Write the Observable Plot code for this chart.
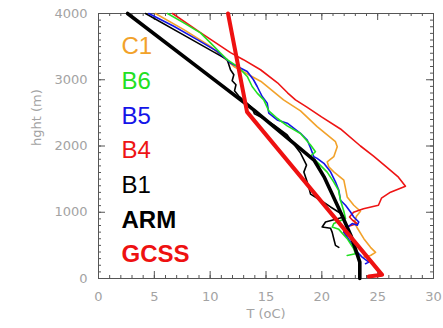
<!DOCTYPE html>
<html><head><meta charset="utf-8">
<script src="https://cdn.jsdelivr.net/npm/d3@7"></script>
<script src="https://cdn.jsdelivr.net/npm/@observablehq/plot@0.6"></script>
<style>
body{margin:0;background:#fff;}
#wrap{position:relative;width:443px;height:328px;overflow:hidden;}
#legend{position:absolute;left:121.5px;top:29.4px;font-family:"Liberation Sans",Arial,sans-serif;font-size:24px;line-height:34.67px;white-space:nowrap;}
</style></head>
<body>
<div id="wrap"><div id="chart"></div><div id="legend"></div></div>
<script>
// Series (temperature in degC, height in m)
const gcssT = [24.2, 25.4, 13.3, 11.6];
const gcssH = [30, 55, 2515, 4000];

const armT = [2.6, 13.9, 17.5, 19.3, 20.2, 20.9, 21.8, 22.6, 23.2, 23.4, 23.4];
const armH = [4000, 2545, 2040, 1788, 1535, 1283, 955, 650, 350, 247, 0];

const c1T = [5.1, 7.64, 10.03, 12.12, 14.55, 16.57, 18.09, 19.58, 21.22, 21.38, 21.07, 20.48, 20.62, 21.07, 21.97, 22.12, 22.27, 22.86, 23.46, 23.1, 22.92, 23.19, 23.76, 24.36, 24.81, 24.36, 23.76];
const c1H = [4000, 3757, 3504, 3201, 2974, 2697, 2530, 2292, 2065, 1989, 1838, 1762, 1686, 1610, 1485, 1359, 1232, 1106, 1015, 939, 848, 758, 601, 470, 394, 348, 323];

const b6T = [6.18, 7.64, 9.13, 10.03, 10.92, 11.52, 12.56, 13.32, 13.76, 14.21, 14.8, 15.25, 16.0, 16.9, 18.09, 18.99, 19.43, 18.99, 19.58, 20.48, 21.07, 21.49, 21.67, 21.97, 22.12, 21.07, 20.93, 21.52, 22.27, 22.86, 23.01, 22.27];
const b6H = [4000, 3859, 3707, 3556, 3404, 3303, 3186, 3050, 2898, 2798, 2697, 2530, 2419, 2303, 2189, 2015, 1913, 1848, 1757, 1606, 1454, 1333, 1182, 1015, 904, 829, 777, 742, 601, 450, 374, 348];

const b5T = [4.5, 6.74, 8.84, 10.63, 11.82, 13.32, 13.88, 14.21, 14.66, 15.11, 15.25, 16.0, 16.9, 18.09, 18.69, 18.99, 19.28, 19.58, 20.18, 20.78, 21.22, 21.52, 21.67, 22.12, 22.57, 22.86, 23.31, 23.17, 22.72, 22.12, 21.97, 22.27, 22.75, 23.17, 23.61, 24.21, 23.91];
const b5H = [4000, 3807, 3606, 3428, 3253, 3125, 3000, 2898, 2747, 2647, 2495, 2394, 2344, 2192, 2091, 1970, 1838, 1813, 1738, 1610, 1459, 1333, 1182, 1106, 1004, 929, 853, 803, 829, 753, 701, 626, 500, 398, 323, 247, 223];

const b4T = [6.63, 9.13, 11.82, 12.98, 14.51, 16.03, 16.93, 17.64, 18.63, 19.97, 21.67, 23.46, 24.63, 25.7, 26.86, 27.49, 26.15, 25.34, 25.07, 23.73, 22.84, 22.48, 22.75, 23.17, 22.41, 21.97, 22.21];
const b4H = [4000, 3712, 3409, 3303, 3151, 2954, 2803, 2697, 2591, 2439, 2257, 2000, 1848, 1697, 1530, 1394, 1303, 1212, 1106, 1053, 1000, 929, 879, 829, 788, 701, 636];

const b1T = [4.21, 7.88, 11.53, 11.82, 12.12, 11.97, 12.31, 12.18, 12.54, 13.16, 13.76, 13.97, 14.8, 15.7, 16.9, 17.55, 18.09, 18.63, 18.39, 18.63, 18.83, 18.99, 19.88, 20.78, 21.67, 21.97, 20.33, 20.03, 20.78, 20.93, 21.07, 21.22, 21.52];
const b1H = [4000, 3651, 3303, 3151, 3075, 2985, 2924, 2833, 2757, 2666, 2576, 2485, 2416, 2318, 2166, 2015, 1894, 1712, 1606, 1485, 1379, 1273, 1182, 1080, 985, 929, 853, 777, 758, 697, 601, 500, 470];

// Legend labels and colours
const legendLabels = ["C1", "B6", "B5", "B4", "B1", "ARM", "GCSS"];
const legendColors = ["#f2a22a", "#22e022", "#1414e8", "#ee1414", "#000000", "#000000", "#ee1111"];
const legendBold = [false, false, false, false, false, true, true];

// Axis ticks
const xMajor = [0, 5, 10, 15, 20, 25, 30];
const yMajor = [0, 1000, 2000, 3000, 4000];
const xMinor = d3.range(0, 31, 1);
const yMinor = d3.range(0, 4001, 100);

const toRows = (name, T, H) => T.map((t, i) => ({name, T: t, h: H[i]}));

const thin = [
  {name: "C1", rows: toRows("C1", c1T, c1H), color: legendColors[0]},
  {name: "B4", rows: toRows("B4", b4T, b4H), color: legendColors[3]},
  {name: "B1", rows: toRows("B1", b1T, b1H), color: legendColors[4]},
  {name: "B5", rows: toRows("B5", b5T, b5H), color: legendColors[2]},
  {name: "B6", rows: toRows("B6", b6T, b6H), color: legendColors[1]}
];

const W = 443, H = 328, mL = 98, mR = 10, mT = 13, mB = 50;
const fw = W - mL - mR, fh = H - mT - mB;
const axisColor = "#555";

const chart = Plot.plot({
  width: W, height: H,
  marginLeft: mL, marginRight: mR, marginTop: mT, marginBottom: mB,
  x: {domain: [0, 30]},
  y: {domain: [0, 4000]},
  style: {fontFamily: "DejaVu Sans, sans-serif", fontSize: "13px", color: "#a3a3a3", background: "white"},
  marks: [
    // minor & major ticks on all four sides, pointing inward
    Plot.tickX(xMinor, {x: d => d, insetTop: fh - 3, stroke: axisColor}),
    Plot.tickX(xMinor, {x: d => d, insetBottom: fh - 3, stroke: axisColor}),
    Plot.tickX(xMajor, {x: d => d, insetTop: fh - 7, stroke: axisColor}),
    Plot.tickX(xMajor, {x: d => d, insetBottom: fh - 7, stroke: axisColor}),
    Plot.tickY(yMinor, {y: d => d, insetRight: fw - 3, stroke: axisColor}),
    Plot.tickY(yMinor, {y: d => d, insetLeft: fw - 3, stroke: axisColor}),
    Plot.tickY(yMajor, {y: d => d, insetRight: fw - 7, stroke: axisColor}),
    Plot.tickY(yMajor, {y: d => d, insetLeft: fw - 7, stroke: axisColor}),
    Plot.frame({stroke: axisColor}),
    Plot.axisX({ticks: xMajor, tickSize: 0, tickPadding: 13, label: null, tickFormat: d => String(d)}),
    Plot.axisY({ticks: yMajor, tickSize: 0, tickPadding: 11, label: null, tickFormat: d => String(d)}),
    Plot.text(["T (oC)"], {frameAnchor: "bottom", dy: 39, fill: "#a3a3a3"}),
    Plot.text(["hght (m)"], {frameAnchor: "left", dx: -62, rotate: -90, fill: "#a3a3a3"}),
    ...thin.map(s => Plot.line(s.rows, {x: "T", y: "h", stroke: s.color, strokeWidth: 1.6, strokeLinejoin: "round"})),
    Plot.line(toRows("ARM", armT, armH), {x: "T", y: "h", stroke: "#000", strokeWidth: 3.6, strokeLinejoin: "round"}),
    Plot.line(toRows("GCSS", gcssT, gcssH), {x: "T", y: "h", stroke: "#ee1111", strokeWidth: 4, strokeLinejoin: "round"})
  ]
});
document.getElementById("chart").appendChild(chart);

const legend = document.getElementById("legend");
legendLabels.forEach((lab, i) => {
  const d = document.createElement("div");
  d.textContent = lab;
  d.style.color = legendColors[i];
  d.style.fontWeight = legendBold[i] ? "bold" : "normal";
  legend.appendChild(d);
});
</script>
</body></html>
